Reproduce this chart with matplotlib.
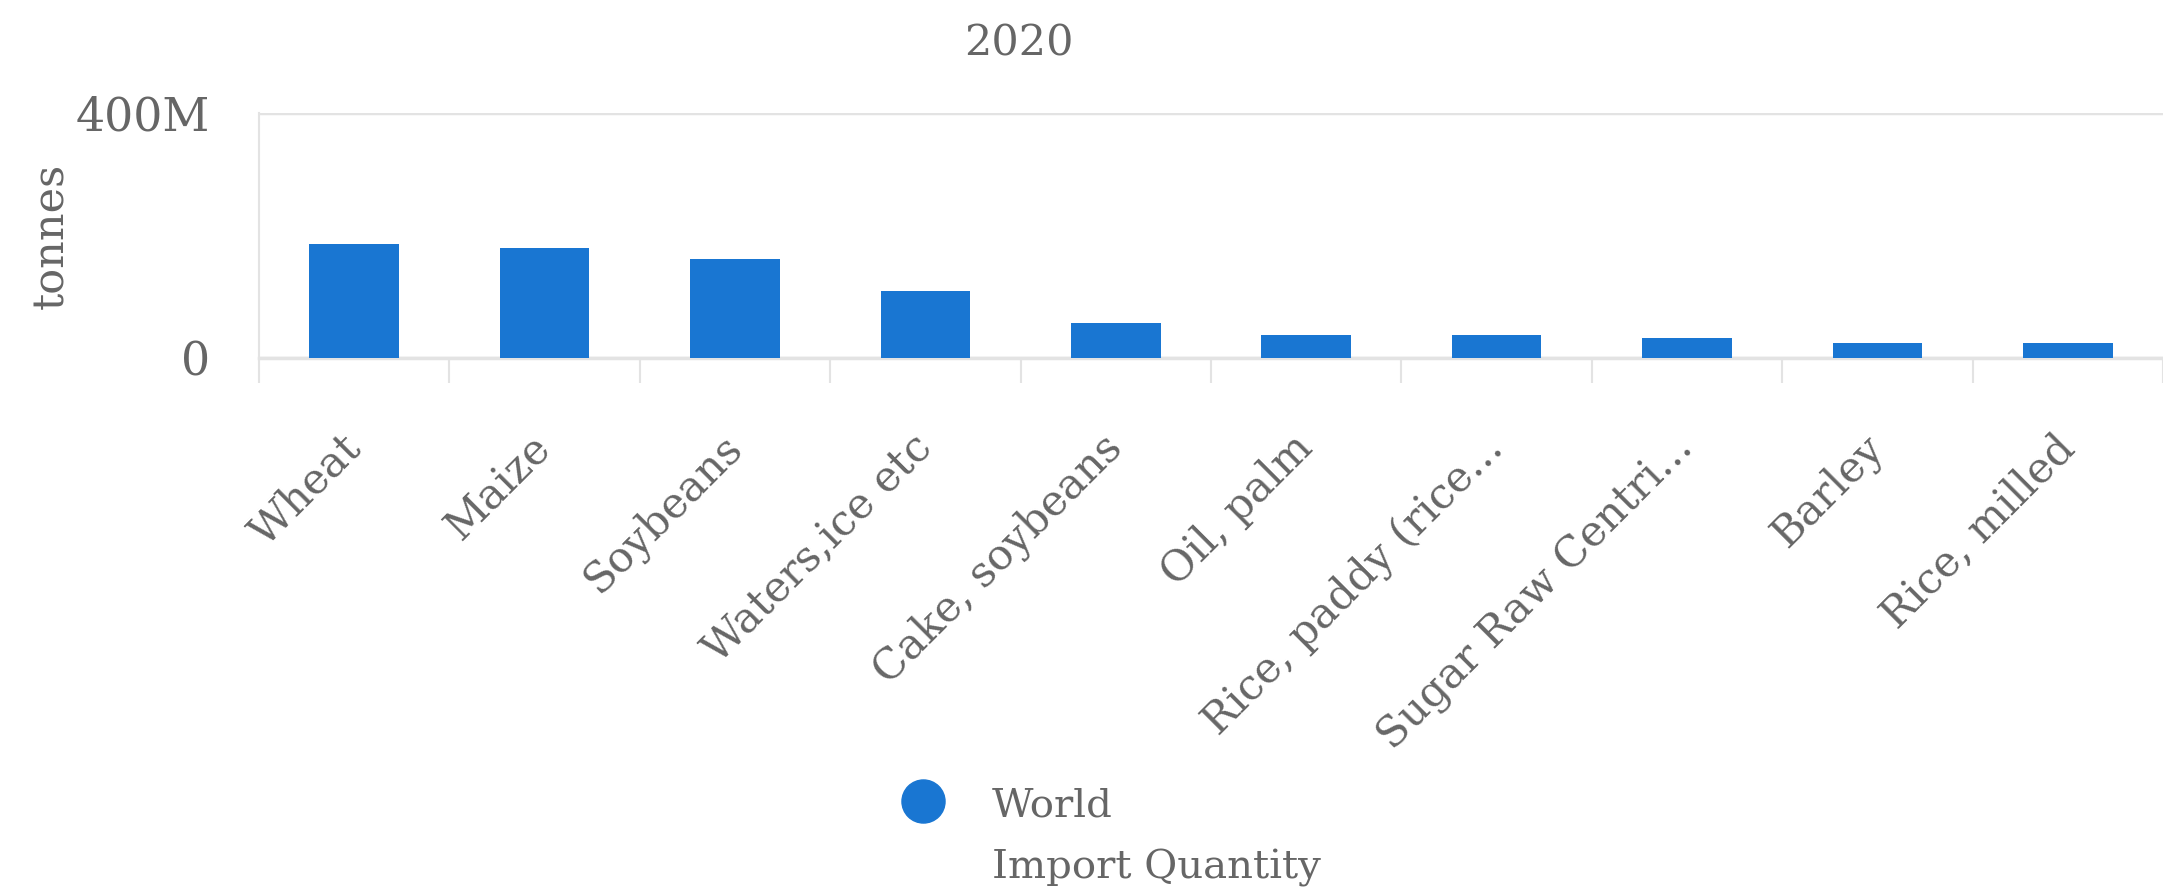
import matplotlib
matplotlib.use('Agg')
import matplotlib.pyplot as plt
import numpy as np
from matplotlib.lines import Line2D

# data (million tonnes)
commodities = ['Wheat', 'Maize', 'Soybeans', 'Waters,ice etc', 'Cake, soybeans',
               'Oil, palm', 'Rice, paddy (rice...', 'Sugar Raw Centri...', 'Barley', 'Rice, milled']
importQty = [186, 180, 161, 109, 57, 38, 38, 32, 25, 25]
yTicks = [0, 400]
yTickLabels = ['0', '400M']
year = '2020'
seriesName = 'World\nImport Quantity'

blue = '#1976d2'
textGray = '#666666'
gridGray = '#e3e3e3'

plt.rcParams['font.family'] = ['DejaVu Serif']

W, H = 2163, 888
fig = plt.figure(figsize=(W / 100, H / 100), dpi=100)
ax = fig.add_axes([259 / W, 1 - 358 / H, (W - 259) / W, (358 - 113) / H])

x = np.arange(len(commodities))
ax.bar(x, importQty, width=0.47, color=blue, zorder=3)

ax.set_xlim(-0.5, len(commodities) - 0.5)
ax.set_ylim(0, 400)

ax.set_yticks(yTicks)
ax.set_yticklabels(yTickLabels, fontsize=33, color=textGray)
ax.tick_params(axis='y', length=0, pad=35)
ax.yaxis.grid(True, color=gridGray, linewidth=2.5, zorder=0)

ax.set_xticks(x)
ax.set_xticklabels(commodities, rotation=45, ha='right', va='center',
                   rotation_mode='anchor', fontsize=30.5, color=textGray)
ax.tick_params(axis='x', length=0, pad=60)
ax.set_xticks(np.arange(len(commodities) + 1) - 0.5, minor=True)
ax.tick_params(axis='x', which='minor', length=18, width=1.5, color=gridGray)

for s in ['top', 'right']:
    ax.spines[s].set_visible(False)
ax.spines['bottom'].set_color(gridGray)
ax.spines['bottom'].set_linewidth(2.5)
ax.spines['left'].set_color(gridGray)
ax.spines['left'].set_linewidth(1.5)

ax.set_ylabel('tonnes', fontsize=31, color=textGray, labelpad=3)

fig.text(1019 / W, 1 - 44 / H, year, ha='center', va='center', fontsize=31, color=textGray)

handle = Line2D([], [], marker='o', linestyle='', color=blue, markersize=31)
leg = fig.legend([handle], [seriesName], loc='upper left', bbox_to_anchor=(903 / W, 1 - 787 / H),
                 frameon=False, fontsize=29, labelcolor=textGray, handletextpad=1.2,
                 handlelength=1.0, borderaxespad=0, borderpad=0)
leg.get_texts()[0].set_linespacing(1.85)
# keep the marker level with the first line of the label
for col in leg._legend_handle_box.get_children():
    for row in col.get_children():
        row.align = 'top'

fig.savefig('out.png', dpi=100)
